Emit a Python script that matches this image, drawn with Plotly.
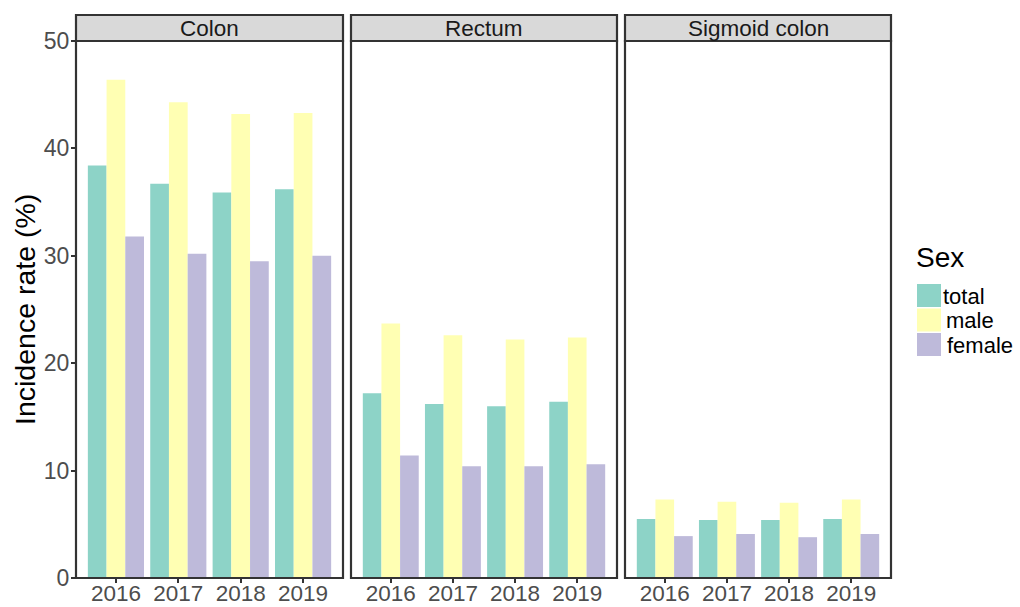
import plotly.graph_objects as go

# Incidence rate (%) by anatomical site, year and sex
years = ["2016", "2017", "2018", "2019"]
sites = ["Colon", "Rectum", "Sigmoid colon"]
sexes = ["total", "male", "female"]
sex_colors = ["#8DD3C7", "#FFFFB3", "#BEBADA"]

colon_total = [38.4, 36.7, 35.9, 36.2]
colon_male = [46.4, 44.3, 43.2, 43.3]
colon_female = [31.8, 30.2, 29.5, 30.0]

rectum_total = [17.2, 16.2, 16.0, 16.4]
rectum_male = [23.7, 22.6, 22.2, 22.4]
rectum_female = [11.4, 10.4, 10.4, 10.6]

sigmoid_total = [5.5, 5.4, 5.4, 5.5]
sigmoid_male = [7.3, 7.1, 7.0, 7.3]
sigmoid_female = [3.9, 4.1, 3.8, 4.1]

y_ticks = [0, 10, 20, 30, 40, 50]

site_series = [
    [colon_total, colon_male, colon_female],
    [rectum_total, rectum_male, rectum_female],
    [sigmoid_total, sigmoid_male, sigmoid_female],
]

W, H = 1020, 607
ML, MR, MT, MB = 76, 129, 41, 29
PW = W - ML - MR
PH = H - MT - MB

# panel extents in pixels
panels_px = [(76, 343), (351, 617), (625, 891)]
domains = [((a - ML) / PW, (b - ML) / PW) for a, b in panels_px]

FONT = "Liberation Sans, Arial, sans-serif"
TICK_GRAY = "#4D4D4D"
LINE = "#333333"
TICK_SIZE = 23

fig = go.Figure()

for i, series in enumerate(site_series):
    xa = "x" if i == 0 else f"x{i + 1}"
    ya = "y" if i == 0 else f"y{i + 1}"
    for name, vals, col in zip(sexes, series, sex_colors):
        fig.add_trace(go.Bar(
            x=years, y=vals, name=name, xaxis=xa, yaxis=ya,
            marker=dict(color=col, line=dict(width=0)),
            showlegend=False,
        ))

layout = dict(
    width=W, height=H,
    margin=dict(l=ML, r=MR, t=MT, b=MB, autoexpand=False),
    paper_bgcolor="white", plot_bgcolor="white",
    barmode="group", bargap=0.1, bargroupgap=0,
    font=dict(family=FONT, color=TICK_GRAY),
)

for i, (d0, d1) in enumerate(domains):
    key = "xaxis" if i == 0 else f"xaxis{i + 1}"
    ykey = "yaxis" if i == 0 else f"yaxis{i + 1}"
    layout[key] = dict(
        domain=[d0, d1], anchor="y" if i == 0 else f"y{i + 1}",
        type="category", categoryorder="array", categoryarray=years,
        range=[-0.64, 3.64], showgrid=False, zeroline=False, showline=False,
        ticks="outside", ticklen=4, tickwidth=1.5, tickcolor=LINE,
        ticklabelstandoff=-9,
        tickfont=dict(size=22.5, color=TICK_GRAY, family=FONT),
        automargin=False, fixedrange=True,
    )
    ycfg = dict(
        domain=[0, 1], range=[0, 50], showgrid=False, zeroline=False,
        showline=False, fixedrange=True, automargin=False,
        anchor="x" if i == 0 else f"x{i + 1}",
    )
    if i == 0:
        ycfg.update(
            tickvals=y_ticks, ticks="outside", ticklen=4, tickwidth=1.5,
            tickcolor=LINE, ticklabelstandoff=-3,
            tickfont=dict(size=TICK_SIZE, color=TICK_GRAY, family=FONT),
        )
    else:
        ycfg.update(matches="y", showticklabels=False, ticks="")
    layout[ykey] = ycfg

fig.update_layout(**layout)

def px_x(p):
    return (p - ML) / PW

def px_y(p):
    return 1 - (p - MT) / PH

# strips and panel borders
strip_h = 26 / PH
shapes = []
annotations = []
for i, (d0, d1) in enumerate(domains):
    shapes.append(dict(type="rect", xref="paper", yref="paper",
                       x0=d0, x1=d1, y0=1, y1=1 + strip_h,
                       fillcolor="#D9D9D9", line=dict(color=LINE, width=2.2),
                       layer="above"))
    shapes.append(dict(type="rect", xref="paper", yref="paper",
                       x0=d0, x1=d1, y0=0, y1=1,
                       fillcolor="rgba(0,0,0,0)", line=dict(color=LINE, width=2.2),
                       layer="above"))
    annotations.append(dict(text=sites[i], xref="paper", yref="paper",
                            x=(d0 + d1) / 2, y=1 + strip_h / 2,
                            xanchor="center", yanchor="middle", showarrow=False,
                            font=dict(size=22.5, color="#1A1A1A", family=FONT)))

# y axis title
annotations.append(dict(text="Incidence rate (%)", xref="paper", yref="paper",
                        x=px_x(25), y=px_y(310), xanchor="center", yanchor="middle",
                        textangle=-90, showarrow=False,
                        font=dict(size=28.5, color="black", family=FONT)))

# legend drawn as keys and labels
annotations.append(dict(text="Sex", xref="paper", yref="paper",
                        x=px_x(914), y=px_y(257), xanchor="left", yanchor="middle",
                        showarrow=False, font=dict(size=28, color="black", family=FONT)))
key_top = 284
key_h = 24.5
label_left = [942, 945, 946]
for j, (name, col) in enumerate(zip(sexes, sex_colors)):
    t = key_top + j * key_h
    shapes.append(dict(type="rect", xref="paper", yref="paper",
                       x0=px_x(917), x1=px_x(941), y0=px_y(t + 23), y1=px_y(t),
                       fillcolor=col, line=dict(width=0)))
    annotations.append(dict(text=name, xref="paper", yref="paper",
                            x=px_x(label_left[j]), y=px_y(t + 12),
                            xanchor="left", yanchor="middle",
                            showarrow=False, borderpad=0,
                            font=dict(size=22, color="black", family=FONT)))

fig.update_layout(shapes=shapes, annotations=annotations)

fig.write_html("out.html")
